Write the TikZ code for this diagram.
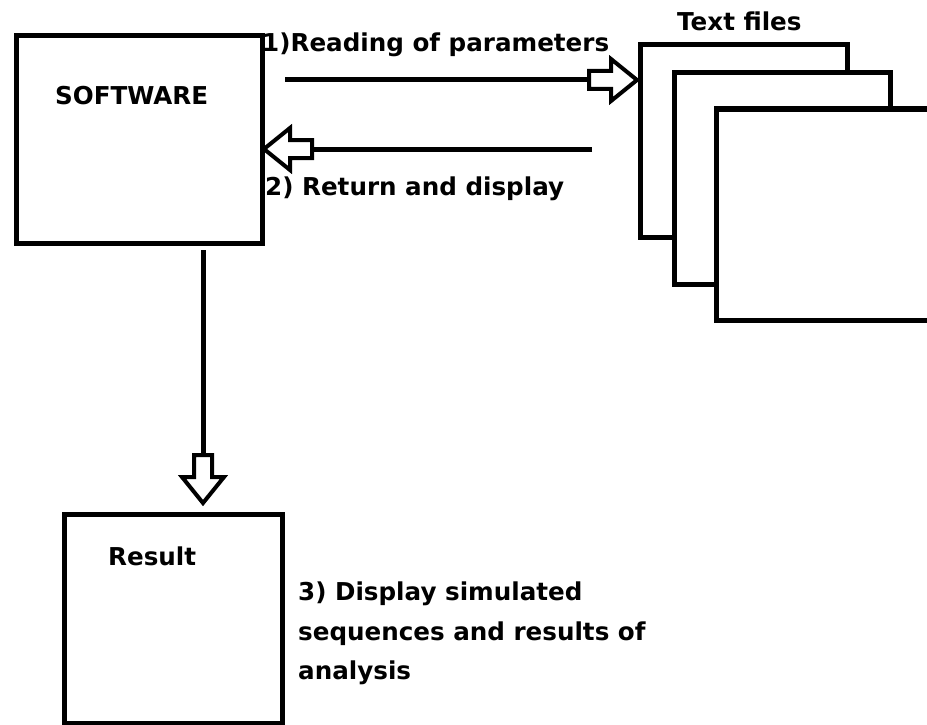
\documentclass[tikz,border=0pt]{standalone}
\usepackage{fontspec}
\setmainfont{DejaVu Sans}
\tikzset{
  box/.style={draw, line width=5pt, fill=white, inner sep=0pt, outer sep=0pt},
  lbl/.style={inner sep=0pt, font=\fontsize{24.6}{29}\selectfont\bfseries, anchor=base west},
  conn/.style={line width=5pt},
  hollow/.style={draw, fill=white, line width=4pt, line join=miter},
  pics/bhead/.style={code={
    \draw[hollow] (0,0) -- (-26,-21) -- (-26,-9) -- (-48,-9) -- (-48,9) -- (-26,9) -- (-26,21) -- cycle;}}
}
\begin{document}
\begin{tikzpicture}[x=1pt,y=-1pt]
\useasboundingbox (0,0) rectangle (927,725);
\clip (0,0) rectangle (927,725);
% boxes
\node[box, minimum width=246pt, minimum height=207pt] (sw) at (139,139.5) {};
\node[box, minimum width=218pt, minimum height=209pt] (res) at (173,618.5) {};
\node[box, minimum width=207pt, minimum height=192pt] (f1) at (743.5,141) {};
\node[box, minimum width=216pt, minimum height=211pt] (f2) at (782,178.5) {};
\node[box, minimum width=244pt, minimum height=211pt] (f3) at (838,214.5) {};
% labels
\node[lbl] (swt) at (55,104) {SOFTWARE};
\node[lbl] (rest) at (108,565) {Result};
\node[lbl] (ft) at (677,31) {Text files};
\node[lbl] (l1) at (262,52) {1)Reading of parameters};
\node[lbl] (l2) at (265,195) {2) Return and display};
\node[lbl] (l3a) at (298,600) {3) Display simulated};
\node[lbl] (l3b) at (298,640) {sequences and results of};
\node[lbl] (l3c) at (298,679) {analysis};
% connectors
\coordinate (a1s) at (285,80);
\coordinate (a1t) at (f1.west |- a1s);
\coordinate (a2s) at (592,149);
\coordinate (a2t) at (sw.east |- a2s);
\coordinate (a3s) at (203,250);
\coordinate (a3t) at (a3s |- res.north);
\draw[conn] (a1s) -- ([xshift=-48pt]a1t);
\pic at ([xshift=-3pt]a1t) {bhead};
\draw[conn] (a2s) -- ([xshift=48pt]a2t);
\pic[rotate=180] at ([xshift=2pt]a2t) {bhead};
\draw[conn] (a3s) -- ([yshift=59pt]a3t);
\pic[rotate=-90] at ([yshift=11pt]a3t) {bhead};
\end{tikzpicture}
\end{document}
